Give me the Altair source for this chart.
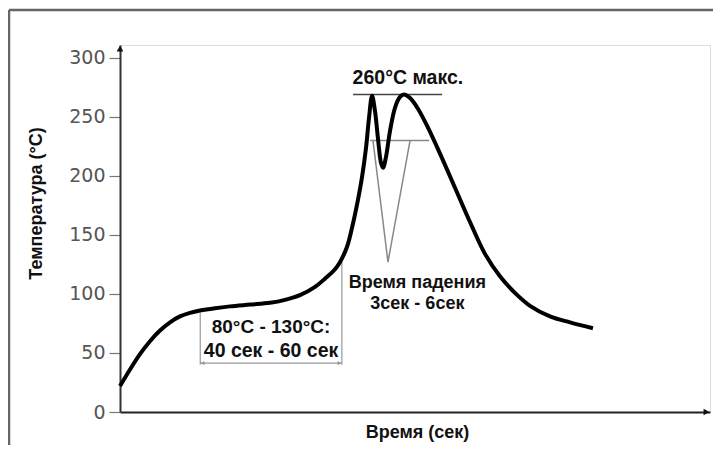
import altair as alt
import pandas as pd

# Reflow profile curve (time in arbitrary units, temperature in °C)
curve_t = [0, 8.5, 16.9, 25.4, 33.9, 42.4, 50.8, 59.3, 67.8, 80.5, 93.2, 110.2,
           127.1, 139.8, 152.5, 165.3, 173.7, 182.2, 186.4, 192.4, 197.5, 201.7,
           205.1, 208.5, 211.0, 213.6, 216.1, 218.6, 221.2, 222.9, 225.4, 228.8,
           233.1, 237.3, 240.7, 245.8, 252.5, 261.0, 271.2, 283.9, 296.6, 309.3,
           322.0, 334.7, 347.5, 364.4, 381.4, 400.8]
curve_temp = [22, 36, 49, 60, 69, 76, 81, 84, 86, 88, 89.5, 91,
              92.5, 95, 99, 106, 113, 121, 127, 140, 160, 180,
              199, 224, 249, 268, 255, 232, 211, 207, 216, 238,
              258, 267, 269, 266, 257, 241, 219, 190, 161, 134,
              115, 101, 90, 81, 76, 71]

y_ticks = [0, 50, 100, 150, 200, 250, 300]

# annotation geometry (data units)
max_line_t = [197.5, 273]
max_temp = 269
tal_line_t = [212, 262]
tal_temp = 230
v_t = [214.4, 227.1, 245.8]
v_temp = [230, 127, 230]
soak_t = [68, 188]
soak_top = [84, 127]
soak_bottom = 40
soak_arrow_temp = 41.5

labels = ["260°C макс.", "Время падения", "3сек - 6сек",
          "80°C - 130°C:", "40 сек - 60 сек"]
label_t = [244, 252, 252, 128, 128]
label_temp = [278, 104.8, 87.5, 67, 46.5]
label_size = [19.5, 18, 18, 19, 19.5]

X_DOM = [0, 500]
Y_DOM = [0, 311]

xs = alt.Scale(domain=X_DOM, nice=False, zero=False)
ys = alt.Scale(domain=Y_DOM, nice=False, zero=False)

curve_df = pd.DataFrame({"t": curve_t, "temp": curve_temp})

base_x = alt.X("t:Q", scale=xs,
               axis=alt.Axis(title="Время (сек)", labels=False, ticks=False, grid=False,
                             domainColor="#222", domainWidth=2,
                             titleFont="Liberation Sans", titleFontSize=18,
                             titleFontWeight="bold", titleColor="#111",
                             titleX=297, titleY=25, titleAlign="center",
                             titleBaseline="alphabetic"))
base_y = alt.Y("temp:Q", scale=ys,
               axis=alt.Axis(title="Температура (°C)", values=y_ticks, grid=False,
                             domainColor="#333", domainWidth=2,
                             tickColor="#777", tickSize=11, tickWidth=1.2,
                             labelFont="DejaVu Sans", labelFontSize=19,
                             labelColor="#555", labelPadding=4,
                             titleFont="Liberation Sans", titleFontSize=18,
                             titleFontWeight="bold", titleColor="#111",
                             titleX=-79, titleY=158, titleAngle=270,
                             titleAlign="center", titleBaseline="alphabetic"))

line = alt.Chart(curve_df).mark_line(color="black", strokeWidth=4,
                                     interpolate="catmull-rom").encode(x=base_x, y=base_y)

# max temperature line
max_df = pd.DataFrame({"t": [max_line_t[0]], "t2": [max_line_t[1]], "temp": [max_temp]})
max_rule = alt.Chart(max_df).mark_rule(color="#444", strokeWidth=1.5).encode(
    x=alt.X("t:Q", scale=xs), x2="t2:Q", y=alt.Y("temp:Q", scale=ys))

tal_df = pd.DataFrame({"t": [tal_line_t[0]], "t2": [tal_line_t[1]], "temp": [tal_temp]})
tal_rule = alt.Chart(tal_df).mark_rule(color="#888", strokeWidth=1.5).encode(
    x=alt.X("t:Q", scale=xs), x2="t2:Q", y=alt.Y("temp:Q", scale=ys))

v_df = pd.DataFrame({"t": v_t, "temp": v_temp, "o": [0, 1, 2]})
v_line = alt.Chart(v_df).mark_line(color="#888", strokeWidth=1.5).encode(
    x=alt.X("t:Q", scale=xs), y=alt.Y("temp:Q", scale=ys), order="o:Q")

soak_v_df = pd.DataFrame({"t": soak_t, "top": soak_top, "bot": [soak_bottom, soak_bottom]})
soak_v = alt.Chart(soak_v_df).mark_rule(color="#999", strokeWidth=1.2).encode(
    x=alt.X("t:Q", scale=xs), y=alt.Y("top:Q", scale=ys), y2="bot:Q")

soak_h_df = pd.DataFrame({"t": [soak_t[0]], "t2": [soak_t[1]], "temp": [soak_arrow_temp]})
soak_h = alt.Chart(soak_h_df).mark_rule(color="#999", strokeWidth=1.2).encode(
    x=alt.X("t:Q", scale=xs), x2="t2:Q", y=alt.Y("temp:Q", scale=ys))

soak_arrow_df = pd.DataFrame({"t": [soak_t[0] + 2, soak_t[1] - 2],
                              "temp": [soak_arrow_temp, soak_arrow_temp],
                              "shape": ["triangle-left", "triangle-right"]})
soak_arrows = alt.Chart(soak_arrow_df).mark_point(filled=True, color="#999", size=18,
                                                  opacity=1).encode(
    x=alt.X("t:Q", scale=xs), y=alt.Y("temp:Q", scale=ys),
    shape=alt.Shape("shape:N", scale=None))

# axis arrowheads
axis_arrow_df = pd.DataFrame({"t": [X_DOM[0], X_DOM[1] - 3], "temp": [Y_DOM[1] - 3, Y_DOM[0]],
                              "shape": ["triangle-up", "triangle-right"]})
axis_arrows = alt.Chart(axis_arrow_df).mark_point(filled=True, color="#111", size=45,
                                                  opacity=1).encode(
    x=alt.X("t:Q", scale=xs), y=alt.Y("temp:Q", scale=ys),
    shape=alt.Shape("shape:N", scale=None))

text_df = pd.DataFrame({"t": label_t, "temp": label_temp, "label": labels, "size": label_size})
texts = alt.Chart(text_df).mark_text(font="Liberation Sans", fontWeight="bold",
                                     color="#111", baseline="alphabetic",
                                     align="center").encode(
    x=alt.X("t:Q", scale=xs), y=alt.Y("temp:Q", scale=ys), text="label:N",
    size=alt.Size("size:Q", scale=None, legend=None))

# outer frame (decoration)
frame_top = alt.Chart(max_df).mark_rule(color="#666", strokeWidth=2.5).encode(
    x=alt.value(-111), x2=alt.value(600), y=alt.value(-35))
frame_left = alt.Chart(max_df).mark_rule(color="#666", strokeWidth=2.5).encode(
    x=alt.value(-111), y=alt.value(-35), y2=alt.value(400))

chart = alt.layer(frame_top, frame_left, max_rule, tal_rule, v_line, soak_v, soak_h,
                  soak_arrows, line, axis_arrows, texts).properties(
    width=590, height=367,
    autosize=alt.AutoSizeParams(type="none"),
    padding={"left": 112, "top": 37, "right": 3, "bottom": 33},
).configure_view(stroke=None).configure(background="white")

chart.save("out.html", embed_options={"renderer": "svg", "actions": False})
